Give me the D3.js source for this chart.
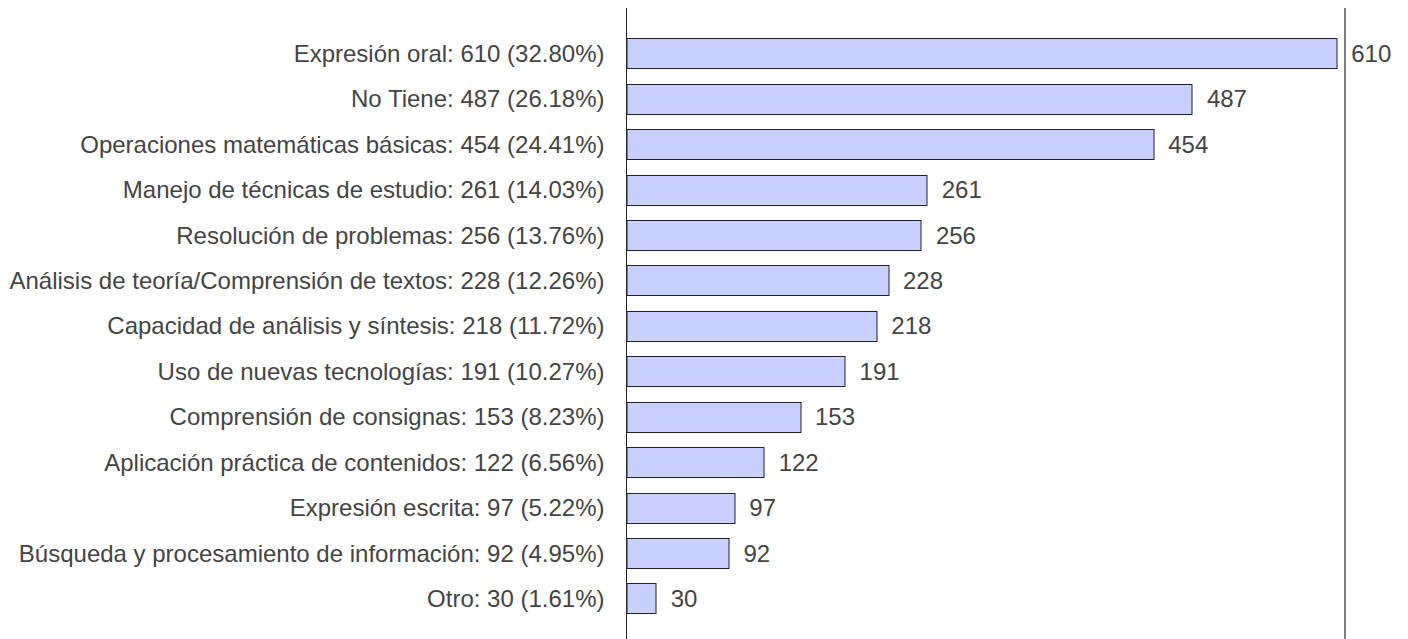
<!DOCTYPE html>
<html>
<head>
<meta charset="utf-8">
<script src="https://cdn.jsdelivr.net/npm/d3@7"></script>
<style>
  body { margin: 0; background: #fff; }
  svg { display: block; font-family: "Liberation Sans", Arial, sans-serif; }
</style>
</head>
<body>
<svg id="chart" width="1408" height="639"></svg>
<script>
var categories = [
  "Expresión oral",
  "No Tiene",
  "Operaciones matemáticas básicas",
  "Manejo de técnicas de estudio",
  "Resolución de problemas",
  "Análisis de teoría/Comprensión de textos",
  "Capacidad de análisis y síntesis",
  "Uso de nuevas tecnologías",
  "Comprensión de consignas",
  "Aplicación práctica de contenidos",
  "Expresión escrita",
  "Búsqueda y procesamiento de información",
  "Otro"
];
var counts = [610, 487, 454, 261, 256, 228, 218, 191, 153, 122, 97, 92, 30];
var percents = ["32.80", "26.18", "24.41", "14.03", "13.76", "12.26", "11.72", "10.27", "8.23", "6.56", "5.22", "4.95", "1.61"];

var W = 1408, H = 639,
    axisX = 626.5,
    rightX = 1345;

var svg = d3.select("#chart");

var x = d3.scaleLinear().domain([0, 616.6]).range([621.5, rightX]);
var y = d3.scaleBand()
    .domain(d3.range(categories.length))
    .range([30.8, 621.3])
    .paddingInner(0.33)
    .paddingOuter(0.165);

// bars
svg.selectAll("rect.bar")
    .data(counts)
  .enter().append("rect")
    .attr("class", "bar")
    .attr("x", axisX + 0.5)
    .attr("y", function(d, i) { return Math.round(y(i)) + 0.5; })
    .attr("width", function(d) { return Math.round(x(d) - axisX - 1); })
    .attr("height", Math.round(y.bandwidth()))
    .style("fill", "#c8d0ff")
    .style("stroke", "#222")
    .style("stroke-width", 1);

// category labels
svg.selectAll("text.cat")
    .data(categories)
  .enter().append("text")
    .attr("class", "cat")
    .attr("x", axisX - 22)
    .attr("y", function(d, i) { return y(i) + y.bandwidth() / 2; })
    .attr("dy", "0.35em")
    .attr("text-anchor", "end")
    .style("font-size", "24px")
    .style("fill", "#444")
    .text(function(d, i) { return d + ": " + counts[i] + " (" + percents[i] + "%)"; });

// value labels
svg.selectAll("text.val")
    .data(counts)
  .enter().append("text")
    .attr("class", "val")
    .attr("x", function(d) { return x(d) + 14; })
    .attr("y", function(d, i) { return y(i) + y.bandwidth() / 2; })
    .attr("dy", "0.35em")
    .style("font-size", "24px")
    .style("fill", "#444")
    .text(function(d) { return d; });

// axis lines
svg.append("line")
    .attr("x1", axisX).attr("x2", axisX)
    .attr("y1", 8).attr("y2", H)
    .style("stroke", "#222").style("stroke-width", 1);

svg.append("line")
    .attr("x1", rightX).attr("x2", rightX)
    .attr("y1", 8).attr("y2", H)
    .style("stroke", "#808080").style("stroke-width", 2);
</script>
</body>
</html>
